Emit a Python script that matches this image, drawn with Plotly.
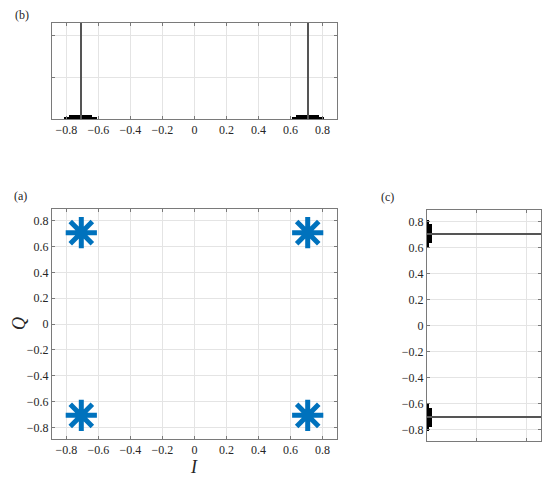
import plotly.graph_objects as go

# the page body adds an 8px margin, so the figure is drawn 8px smaller
OFF = 8
W, H = 550 - OFF, 478 - OFF

blue = "#0072BD"
frame_color = "#7a7a7a"
grid_color = "#e4e4e4"
text_color = "#262626"
serif = "Liberation Serif"

# constellation points (I, Q)
const_i = [-0.707, 0.707, -0.707, 0.707]
const_q = [0.707, 0.707, -0.707, -0.707]

# histogram of I (panel b): bin centres and counts, spike is clipped by the axis
i_bins = [-0.805, -0.795, -0.785, -0.775, -0.765, -0.755, -0.745, -0.735,
          -0.725, -0.715, -0.695, -0.685, -0.675, -0.665, -0.655, -0.645,
          -0.635, -0.625, -0.615,
          0.615, 0.625, 0.635, 0.645, 0.655, 0.665, 0.675, 0.685, 0.695,
          0.715, 0.725, 0.735, 0.745, 0.755, 0.765, 0.775, 0.785, 0.795, 0.805]
i_counts = [3, 3, 3, 10, 10, 10, 10, 10, 10, 10, 10, 10, 10, 10, 10, 10, 3, 3, 3,
            3, 3, 3, 10, 10, 10, 10, 10, 10, 10, 10, 10, 10, 10, 10, 10, 3, 3, 3]
i_spikes = [-0.707, 0.707]
i_spike_counts = [1000, 1000]

# histogram of Q (panel c)
q_bins = [-0.805, -0.795, -0.785, -0.775, -0.765, -0.755, -0.745, -0.735,
          -0.725, -0.715, -0.695, -0.685, -0.675, -0.665, -0.655, -0.645,
          -0.635, -0.625, -0.615,
          0.615, 0.625, 0.635, 0.645, 0.655, 0.665, 0.675, 0.685, 0.695,
          0.715, 0.725, 0.735, 0.745, 0.755, 0.765, 0.775, 0.785, 0.795, 0.805]
q_counts = [3, 3, 3, 10, 10, 10, 10, 10, 10, 10, 10, 10, 10, 10, 10, 10, 3, 3, 3,
            3, 3, 3, 10, 10, 10, 10, 10, 10, 10, 10, 10, 10, 10, 10, 10, 3, 3, 3]
q_spikes = [-0.707, 0.707]
q_spike_counts = [1000, 1000]

iq_ticks = [-0.8, -0.6, -0.4, -0.2, 0, 0.2, 0.4, 0.6, 0.8]


def px_x(p):
    return (p - OFF) / W


def px_y(p):
    return 1 - (p - OFF) / H


fig = go.Figure()

# (a) constellation
fig.add_trace(go.Scatter(
    x=const_i, y=const_q, mode="markers",
    marker=dict(symbol="asterisk-open", size=26, color=blue,
                line=dict(width=5, color=blue)),
    xaxis="x", yaxis="y", showlegend=False,
))

# (b) histogram of I
fig.add_trace(go.Bar(
    x=i_bins, y=i_counts, width=0.0105, marker=dict(color="black", line_width=0),
    xaxis="x2", yaxis="y2", showlegend=False,
))
fig.add_trace(go.Bar(
    x=i_spikes, y=i_spike_counts, width=0.008, marker=dict(color="#555555", line_width=0),
    xaxis="x2", yaxis="y2", showlegend=False,
))

# (c) histogram of Q
fig.add_trace(go.Bar(
    y=q_bins, x=q_counts, orientation="h", width=0.0105,
    marker=dict(color="black", line_width=0),
    xaxis="x3", yaxis="y3", showlegend=False,
))
fig.add_trace(go.Bar(
    y=q_spikes, x=q_spike_counts, orientation="h", width=0.008,
    marker=dict(color="#555555", line_width=0),
    xaxis="x3", yaxis="y3", showlegend=False,
))

common = dict(
    showline=True, linecolor=frame_color, linewidth=1, mirror="ticks",
    showgrid=True, gridcolor=grid_color, gridwidth=1, zeroline=False,
    ticks="inside", ticklen=3, tickcolor=frame_color,
    tickfont=dict(family=serif, size=12, color=text_color),
    fixedrange=True,
)

iq_axis = dict(common, range=[-0.89, 0.89], tickvals=iq_ticks)
count_axis = dict(common, range=[0, 230], tickvals=[100, 200], showticklabels=False)

fig.update_layout(
    width=W, height=H, autosize=False,
    margin=dict(l=0, r=0, t=0, b=0),
    paper_bgcolor="white", plot_bgcolor="white",
    barmode="overlay", bargap=0,
    xaxis=dict(iq_axis, domain=[px_x(52), px_x(337)], anchor="y"),
    yaxis=dict(iq_axis, domain=[px_y(439), px_y(209)], anchor="x"),
    xaxis2=dict(iq_axis, domain=[px_x(52), px_x(337)], anchor="y2"),
    yaxis2=dict(count_axis, domain=[px_y(119), px_y(23)], anchor="x2"),
    xaxis3=dict(count_axis, domain=[px_x(427), px_x(541)], anchor="y3"),
    yaxis3=dict(iq_axis, domain=[px_y(441), px_y(210)], anchor="x3"),
)

labels = [
    ("(b)", 22, 15, 12, False),
    ("(a)", 20, 196, 12, False),
    ("(c)", 387, 197, 12, False),
    ("<i>I</i>", 194, 467, 18, False),
    ("<i>Q</i>", 19, 324, 18, True),
]
for text, x, y, size, rot in labels:
    fig.add_annotation(
        text=text, x=px_x(x), y=px_y(y), xref="paper", yref="paper",
        showarrow=False, xanchor="center", yanchor="middle",
        textangle=-90 if rot else 0,
        font=dict(family=serif, size=size, color=text_color),
    )

fig.write_html("out.html")
